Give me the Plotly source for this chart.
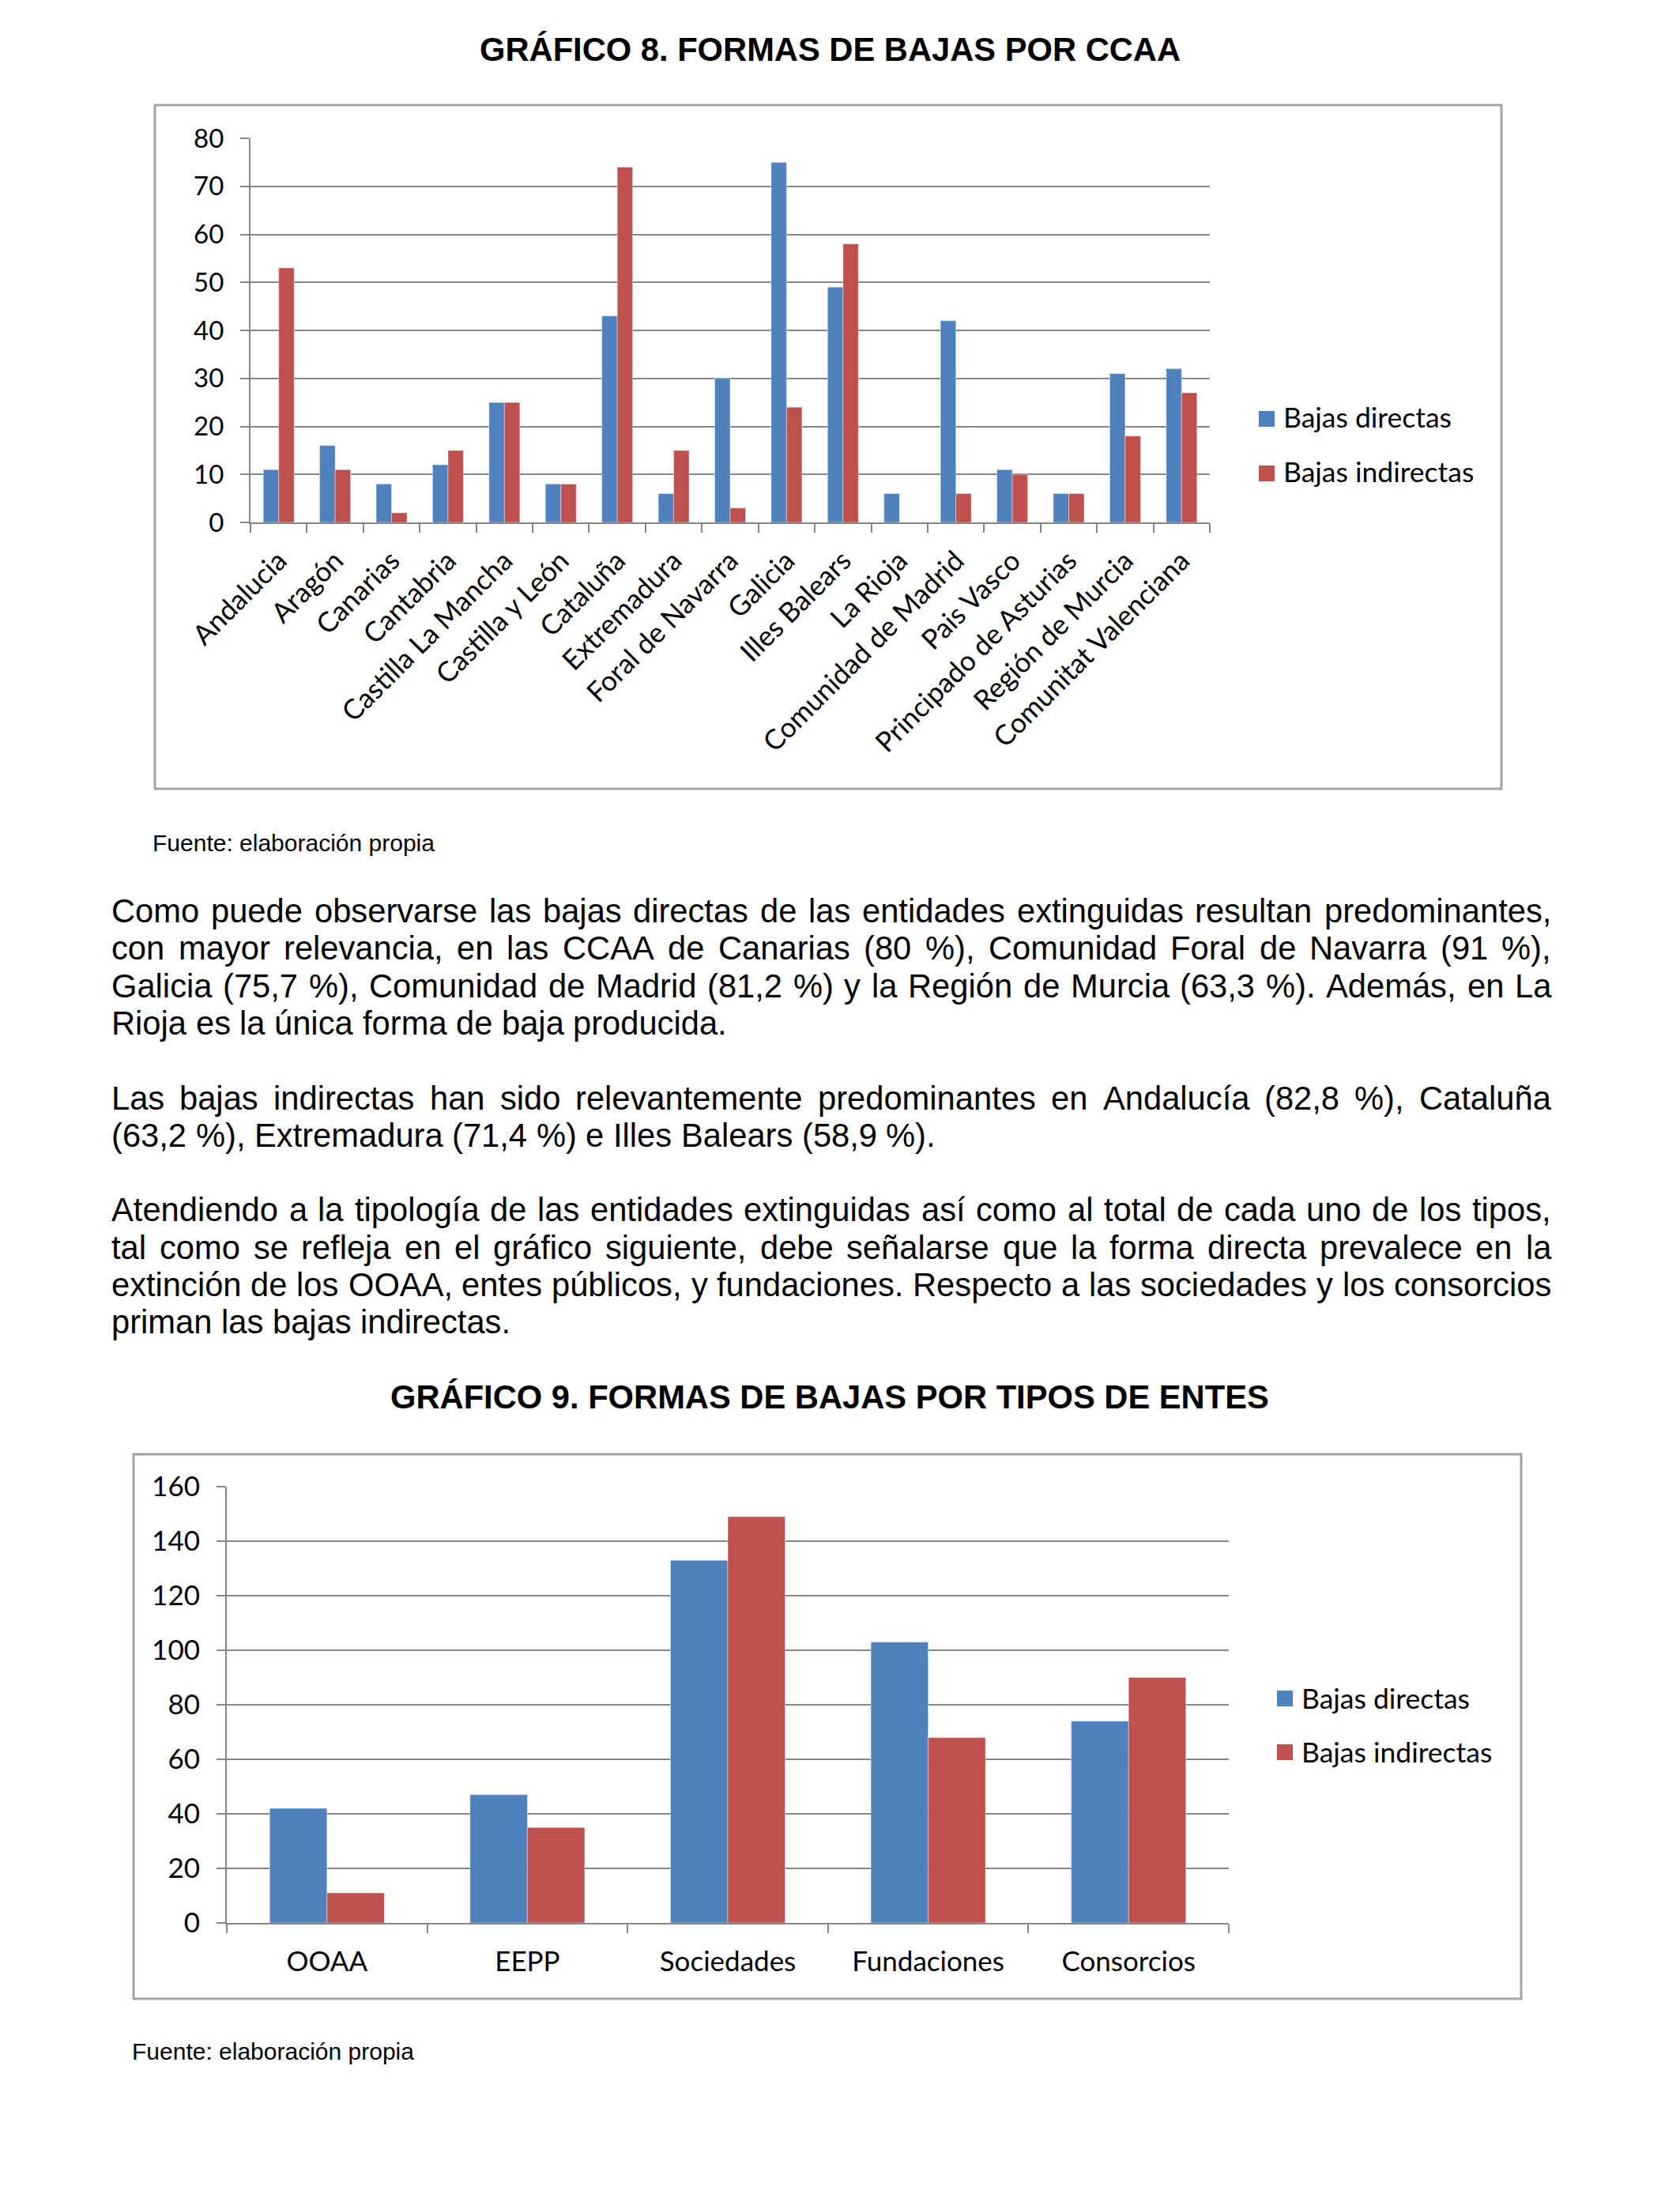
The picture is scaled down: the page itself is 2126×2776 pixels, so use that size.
import plotly.graph_objects as go

# ---------------- data ----------------
ccaa = ["Andalucia", "Aragón", "Canarias", "Cantabria", "Castilla La Mancha",
        "Castilla y León", "Cataluña", "Extremadura", "Foral de Navarra", "Galicia",
        "Illes Balears", "La Rioja", "Comunidad de Madrid", "Pais Vasco",
        "Principado de Asturias", "Región de Murcia", "Comunitat Valenciana"]
directas_ccaa = [11, 16, 8, 12, 25, 8, 43, 6, 30, 75, 49, 6, 42, 11, 6, 31, 32]
indirectas_ccaa = [53, 11, 2, 15, 25, 8, 74, 15, 3, 24, 58, 0, 6, 10, 6, 18, 27]

tipos = ["OOAA", "EEPP", "Sociedades", "Fundaciones", "Consorcios"]
directas_tipos = [42, 47, 133, 103, 74]
indirectas_tipos = [11, 35, 149, 68, 90]

y1_ticks = [0, 10, 20, 30, 40, 50, 60, 70, 80]
y2_ticks = [0, 20, 40, 60, 80, 100, 120, 140, 160]

series_names = ["Bajas directas", "Bajas indirectas"]

title1 = "GRÁFICO 8. FORMAS DE BAJAS POR CCAA"
title2 = "GRÁFICO 9. FORMAS DE BAJAS POR TIPOS DE ENTES"
fuente = "Fuente: elaboración propia"

para1_lines = [
    "Como puede observarse las bajas directas de las entidades extinguidas resultan predominantes,",
    "con mayor relevancia, en las CCAA de Canarias (80 %), Comunidad Foral de Navarra (91 %),",
    "Galicia (75,7 %), Comunidad de Madrid (81,2 %) y la Región de Murcia (63,3 %). Además, en La",
    "Rioja es la única forma de baja producida.",
]
para2_lines = [
    "Las bajas indirectas han sido relevantemente predominantes en Andalucía (82,8 %), Cataluña",
    "(63,2 %), Extremadura (71,4 %) e Illes Balears (58,9 %).",
]
para3_lines = [
    "Atendiendo a la tipología de las entidades extinguidas así como al total de cada uno de los tipos,",
    "tal como se refleja en el gráfico siguiente, debe señalarse que la forma directa prevalece en la",
    "extinción de los OOAA, entes públicos, y fundaciones. Respecto a las sociedades y los consorcios",
    "priman las bajas indirectas.",
]

# ---------------- page geometry ----------------
W, H = 2126, 2776
BLUE = "#4F81BD"
RED = "#C0504D"
GRID = "#868686"
BOX = "#A3A3A3"
CHART_FONT = "Lato"
DOC_FONT = "Liberation Sans"
COLORS = [BLUE, RED]


def px(x):
    return x / W


def py(y):
    return 1 - y / H


# Arial / Liberation Sans advance widths (per 1000 em) for justification
AW = {' ': 278, '%': 889, '(': 333, ')': 333, ',': 278, '.': 278, ':': 278}
for d in "0123456789":
    AW[d] = 556
AW.update({'A': 667, 'B': 667, 'C': 722, 'D': 722, 'E': 667, 'F': 611, 'G': 778, 'H': 722,
           'I': 278, 'J': 500, 'K': 667, 'L': 556, 'M': 833, 'N': 722, 'O': 778, 'P': 667,
           'Q': 778, 'R': 722, 'S': 667, 'T': 611, 'U': 722, 'V': 667, 'W': 944, 'X': 667,
           'Y': 667, 'Z': 611,
           'a': 556, 'b': 556, 'c': 500, 'd': 556, 'e': 556, 'f': 278, 'g': 556, 'h': 556,
           'i': 222, 'j': 222, 'k': 500, 'l': 222, 'm': 833, 'n': 556, 'o': 556, 'p': 556,
           'q': 556, 'r': 333, 's': 500, 't': 278, 'u': 556, 'v': 500, 'w': 722, 'x': 500,
           'y': 500, 'z': 500, 'á': 556, 'é': 556, 'í': 278, 'ó': 556, 'ú': 556, 'ñ': 556})


def text_w(s, fs):
    return sum(AW.get(ch, 556) for ch in s) / 1000.0 * fs


fig = go.Figure()

# ---------------- chart 1 ----------------
BW1 = 0.273
fig.add_trace(go.Bar(x=ccaa, y=directas_ccaa, name=series_names[0], marker_color=BLUE,
                     width=BW1, offset=-BW1, xaxis="x", yaxis="y", showlegend=False))
fig.add_trace(go.Bar(x=ccaa, y=indirectas_ccaa, name=series_names[1], marker_color=RED,
                     width=BW1, offset=0, xaxis="x", yaxis="y", showlegend=False))

# ---------------- chart 2 ----------------
BW2 = 0.286
fig.add_trace(go.Bar(x=tipos, y=directas_tipos, name=series_names[0], marker_color=BLUE,
                     width=BW2, offset=-BW2, xaxis="x2", yaxis="y2", showlegend=False))
fig.add_trace(go.Bar(x=tipos, y=indirectas_tipos, name=series_names[1], marker_color=RED,
                     width=BW2, offset=0, xaxis="x2", yaxis="y2", showlegend=False))

axis_common = dict(showline=True, linecolor=GRID, linewidth=2, ticks="outside",
                   tickcolor=GRID, tickwidth=2, ticklen=11, zeroline=False,
                   fixedrange=True, automargin=False)

fig.update_layout(
    width=W, height=H,
    margin=dict(l=0, r=0, t=0, b=0, pad=0, autoexpand=False),
    paper_bgcolor="white", plot_bgcolor="white",
    barmode="group",
    showlegend=False,
    xaxis=dict(domain=[px(317), px(1531)], anchor="y", type="category",
               tickson="boundaries", tickangle=-45, showgrid=False,
               tickfont=dict(family=CHART_FONT, size=35, color="black"),
               ticklabelstandoff=12, **axis_common),
    yaxis=dict(domain=[py(661), py(175)], anchor="x", range=[0, 80],
               tickvals=y1_ticks, showgrid=True, gridcolor=GRID, gridwidth=2,
               tickfont=dict(family=CHART_FONT, size=33, color="black"),
               ticklabelstandoff=14, **axis_common),
    xaxis2=dict(domain=[px(287), px(1555)], anchor="y2", type="category",
                tickson="boundaries", showgrid=False,
                tickfont=dict(family=CHART_FONT, size=35, color="black"),
                ticklabelstandoff=17, **axis_common),
    yaxis2=dict(domain=[py(2433), py(1881)], anchor="x2", range=[0, 160],
                tickvals=y2_ticks, showgrid=True, gridcolor=GRID, gridwidth=2,
                tickfont=dict(family=CHART_FONT, size=35, color="black"),
                ticklabelstandoff=14, **axis_common),
)

shapes = [
    dict(type="rect", xref="paper", yref="paper", x0=px(196), x1=px(1900),
         y0=py(998), y1=py(133), line=dict(color=BOX, width=3)),
    dict(type="rect", xref="paper", yref="paper", x0=px(169), x1=px(1925),
         y0=py(2529), y1=py(1840), line=dict(color=BOX, width=3)),
]
annotations = []


def add_text(text, x, ycenter, size, xanchor="left", bold=False, family=DOC_FONT):
    annotations.append(dict(
        text=("<b>%s</b>" % text) if bold else text,
        x=px(x), y=py(ycenter), xref="paper", yref="paper",
        xanchor=xanchor, yanchor="middle", showarrow=False,
        borderpad=0, borderwidth=0,
        font=dict(family=family, size=size, color="black")))


# legends (colour square + label), one per chart
def add_legend(x_sq, y_centers, size, text_dy):
    for name, color, yc in zip(series_names, COLORS, y_centers):
        shapes.append(dict(type="rect", xref="paper", yref="paper",
                           x0=px(x_sq), x1=px(x_sq + 20),
                           y0=py(yc + 10), y1=py(yc - 10),
                           fillcolor=color, line=dict(width=0)))
        add_text(name, x_sq + 31, yc + text_dy, size, family=CHART_FONT)


add_legend(1593, [530, 599], 35.5, -3)
add_legend(1616, [2149, 2217], 35.5, -1)

# titles
add_text(title1, 1050, 62, 41.7, xanchor="center", bold=True)
add_text(title2, 1050, 1767, 41.7, xanchor="center", bold=True)
# sources
add_text(fuente, 193, 1066, 30)
add_text(fuente, 167, 2595, 30)

# justified body paragraphs
FS = 41.7
LEFT, RIGHT = 141, 1963
BASE0, LINE = 1167, 47.3


def add_paragraph(lines, first_index):
    for i, line in enumerate(lines):
        base = BASE0 + LINE * (first_index + i)
        yc = base - 0.3465 * FS
        words = line.split(" ")
        last = (i == len(lines) - 1)
        natural = text_w(line, FS)
        gaps = len(words) - 1
        extra = 0 if (last or gaps == 0) else (RIGHT - LEFT - natural) / gaps
        x = LEFT
        for w in words:
            add_text(w, x, yc, FS)
            x += text_w(w, FS) + text_w(" ", FS) + extra


add_paragraph(para1_lines, 0)
add_paragraph(para2_lines, 5)
add_paragraph(para3_lines, 8)

fig.update_layout(annotations=annotations, shapes=shapes)

fig.write_html("out.html", config={"displayModeBar": False},
               post_script="document.body.style.margin='0';")
